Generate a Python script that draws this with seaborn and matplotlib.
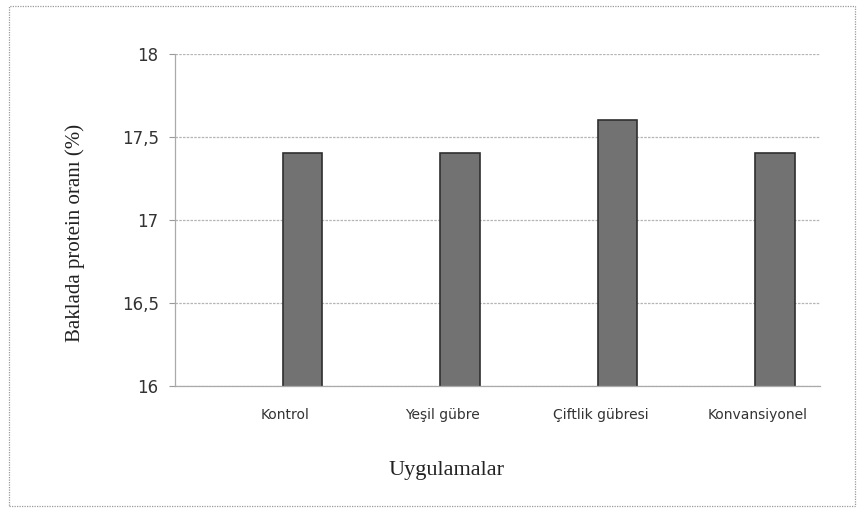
import pandas as pd
import seaborn as sns
import matplotlib.pyplot as plt
from matplotlib.patches import Rectangle
from matplotlib.transforms import ScaledTranslation

# Chart data
treatments = ['Kontrol', 'Yeşil gübre', 'Çiftlik gübresi', 'Konvansiyonel']
protein = [17.4, 17.4, 17.6, 17.4]
y_ticks = [16, 16.5, 17, 17.5, 18]
y_tick_labels = ['16', '16,5', '17', '17,5', '18']

df = pd.DataFrame({'treatment': treatments, 'protein': protein})

sns.set_style('white')
plt.rcParams['font.family'] = ['DejaVu Sans']

fig = plt.figure(figsize=(8.64, 5.12), dpi=100)
ax = fig.add_axes([0.203, 0.246, 0.746, 0.649])

# Draw the bars with seaborn
sns.barplot(data=df, x='treatment', y='protein', color='#727272',
            width=0.25, edgecolor='#2f2f2f', linewidth=1.2,
            saturation=1, ax=ax)

ax.set_xlim(-0.805, 3.285)
ax.set_ylim(16, 18)
ax.set_yticks(y_ticks)
ax.set_yticklabels(y_tick_labels, fontsize=12, color='#333333')
ax.tick_params(axis='x', labelsize=10, colors='#333333', pad=16, length=0)
ax.tick_params(axis='y', length=4, color='#999999', pad=8, left=True)
ax.yaxis.grid(True, color='#b5b5b5', linewidth=0.9, linestyle=(0, (2, 1)))
ax.set_axisbelow(True)

# category labels sit a little left of the bars, as in the 3D original
shift = ScaledTranslation(-0.17, 0, fig.dpi_scale_trans)
for lbl in ax.get_xticklabels():
    lbl.set_transform(lbl.get_transform() + shift)

for side in ['top', 'right']:
    ax.spines[side].set_visible(False)
for side in ['left', 'bottom']:
    ax.spines[side].set_color('#aaaaaa')
    ax.spines[side].set_linewidth(0.9)

ax.set_xlabel('Uygulamalar', fontsize=16, family='Liberation Serif',
              color='#222222')
ax.xaxis.set_label_coords(0.42, -0.225)
ax.set_ylabel('Baklada protein oranı (%)', fontsize=15,
              family='Liberation Serif', color='#222222')
ax.yaxis.set_label_coords(-0.14, 0.46)

# Outer chart frame
fig.patches.append(Rectangle((0.01, 0.012), 0.98, 0.976, transform=fig.transFigure,
                             fill=False, edgecolor='#9a9a9a', linewidth=0.9,
                             linestyle=(0, (1, 1))))

fig.savefig('out.png', dpi=100)
